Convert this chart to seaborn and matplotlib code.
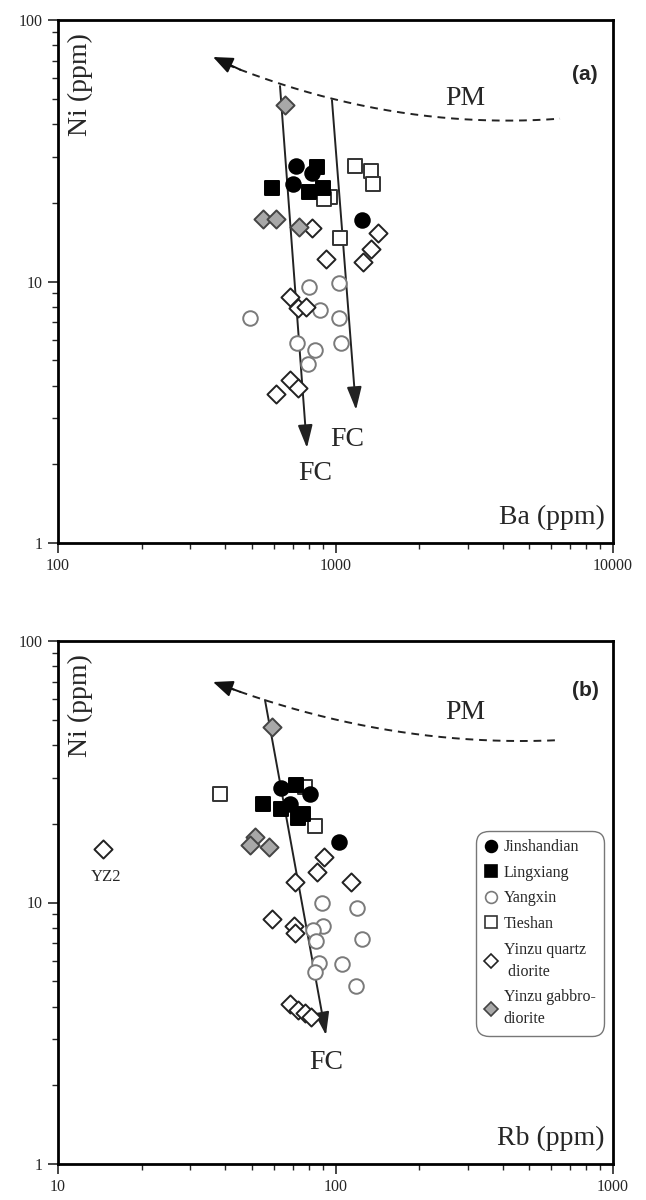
import numpy as np
import pandas as pd
import matplotlib
matplotlib.use("Agg")
import matplotlib.pyplot as plt
import seaborn as sns
from matplotlib.lines import Line2D
from matplotlib.ticker import NullFormatter, FixedLocator

sns.set_style("white")
plt.rcParams['font.family'] = ['Liberation Serif', 'DejaVu Serif']

groups = ["Jinshandian", "Lingxiang", "Yangxin", "Tieshan",
          "Yinzu quartz\n diorite", "Yinzu gabbro-\ndiorite"]

# ---- panel (a): Ba vs Ni ----
a_jin_ba = [721, 823, 703, 1246]
a_jin_ni = [27.7, 26.0, 23.6, 17.2]
a_lin_ba = [857, 590, 803, 902]
a_lin_ni = [27.4, 22.8, 22.0, 22.8]
a_yx_ba = [803, 1029, 492, 879, 1029, 727, 844, 1047, 796]
a_yx_ni = [9.5, 9.9, 7.25, 7.8, 7.25, 5.82, 5.47, 5.82, 4.84]
a_ts_ba = [1176, 1343, 1365, 955, 909, 1038]
a_ts_ni = [27.7, 26.5, 23.6, 21.0, 20.7, 14.7]
a_qd_ba = [823, 1423, 1343, 1257, 924, 686, 733, 783, 686, 610, 733]
a_qd_ni = [16.0, 15.3, 13.3, 11.9, 12.2, 8.7, 7.9, 8.0, 4.2, 3.7, 3.9]
a_gd_ba = [658, 548, 610, 739]
a_gd_ni = [47.3, 17.3, 17.3, 16.2]

# ---- panel (b): Rb vs Ni ----
b_jin_rb = [63.6, 80.9, 68.5, 102.9]
b_jin_ni = [27.4, 26.0, 23.8, 17.0]
b_lin_rb = [72.1, 54.8, 63.6, 76.4, 73.3]
b_lin_ni = [28.1, 23.8, 22.8, 21.8, 21.0]
b_yx_rb = [89.4, 119.6, 90.2, 83.0, 85.1, 124.6, 87.2, 105.5, 84.4, 118.6]
b_yx_ni = [9.96, 9.53, 8.13, 7.85, 7.13, 7.25, 5.87, 5.82, 5.42, 4.79]
b_ts_rb = [38.4, 77.6, 84.4]
b_ts_ni = [26.0, 27.7, 19.6]
b_qd_rb = [14.5, 90.9, 85.8, 113.7, 71.5, 59.0, 70.9, 71.5, 68.5, 73.3, 77.6, 81.6]
b_qd_ni = [16.0, 14.9, 13.1, 12.0, 12.0, 8.65, 8.13, 7.64, 4.09, 3.88, 3.78, 3.65]
b_gd_rb = [59.0, 51.3, 49.2, 57.6]
b_gd_ni = [46.9, 17.8, 16.6, 16.3]

# guide curves (PM) and FC vectors
a_pm_ba = [362, 631, 971, 2585, 6442]
a_pm_ni = [72.2, 55.9, 49.4, 43.3, 41.5]
a_fc1 = [(631, 55.9), (789, 2.31)]
a_fc2 = [(971, 49.4), (1186, 3.23)]
b_pm_rb = [36.2, 55.7, 170.8, 644]
b_pm_ni = [69.7, 59.5, 44.9, 41.8]
b_fc = [(55.7, 59.5), (92.4, 3.11)]

styles = {
    "Jinshandian": dict(marker="o", fc="black", ec="black", s=110),
    "Lingxiang": dict(marker="s", fc="black", ec="black", s=95),
    "Yangxin": dict(marker="o", fc="white", ec="#7a7a7a", s=110),
    "Tieshan": dict(marker="s", fc="white", ec="#333333", s=95),
    "Yinzu quartz\n diorite": dict(marker="D", fc="white", ec="#222222", s=85),
    "Yinzu gabbro-\ndiorite": dict(marker="D", fc="#a8a8a8", ec="#444444", s=85),
}

a_data = [(a_jin_ba, a_jin_ni), (a_lin_ba, a_lin_ni), (a_yx_ba, a_yx_ni),
          (a_ts_ba, a_ts_ni), (a_qd_ba, a_qd_ni), (a_gd_ba, a_gd_ni)]
b_data = [(b_jin_rb, b_jin_ni), (b_lin_rb, b_lin_ni), (b_yx_rb, b_yx_ni),
          (b_ts_rb, b_ts_ni), (b_qd_rb, b_qd_ni), (b_gd_rb, b_gd_ni)]

fig = plt.figure(figsize=(6.46, 12.0), dpi=100)
ax_a = fig.add_axes([58/646, 1-543/1200, 555/646, 523/1200])
ax_b = fig.add_axes([58/646, 1-1164/1200, 555/646, 523/1200])


def draw_points(ax, data):
    order = [2, 3, 4, 5, 0, 1]
    for i in order:
        g = groups[i]
        xs, ys = data[i]
        st = styles[g]
        df = pd.DataFrame({"x": xs, "y": ys})
        sns.scatterplot(data=df, x="x", y="y", ax=ax, marker=st["marker"],
                        s=st["s"], color=st["fc"], edgecolor=st["ec"],
                        linewidth=1.4, zorder=3, legend=False)


def style_axes(ax, xlim, xticks):
    ax.set_xscale("log")
    ax.set_yscale("log")
    ax.set_xlim(*xlim)
    ax.set_ylim(1, 100)
    ax.set_xlabel("")
    ax.set_ylabel("")
    for sp in ax.spines.values():
        sp.set_linewidth(2.0)
        sp.set_color("black")
    ax.tick_params(axis="both", which="major", direction="out", length=7,
                   width=1.2, labelsize=11.5, left=True, bottom=True,
                   top=False, right=False, pad=4)
    ax.tick_params(axis="both", which="minor", direction="out", length=4,
                   width=1.0, left=True, bottom=True, top=False, right=False)
    ax.xaxis.set_major_locator(FixedLocator(xticks))
    ax.set_xticklabels([str(t) for t in xticks])
    ax.yaxis.set_major_locator(FixedLocator([1, 10, 100]))
    ax.set_yticklabels(["1", "10", "100"])
    ax.xaxis.set_minor_formatter(NullFormatter())
    ax.yaxis.set_minor_formatter(NullFormatter())
    ax.grid(False)


def pm_curve(ax, xs, ys):
    lx, ly = np.log10(xs), np.log10(ys)
    coef = np.polyfit(lx, ly, 2)
    gx = np.linspace(lx[0] + 0.05, lx[-1], 200)
    gy = np.polyval(coef, gx)
    ax.plot(10**gx, 10**gy, ls=(0, (4, 3)), color="#222222", lw=1.4, zorder=2)
    ax.annotate("", xy=(xs[0], ys[0]), xytext=(10**gx[8], 10**gy[8]),
                arrowprops=dict(arrowstyle="-|>,head_length=1.2,head_width=0.5",
                                color="#111111", lw=1.4, shrinkA=0, shrinkB=0),
                zorder=2)


def fc_arrow(ax, p0, p1):
    ax.annotate("", xy=p1, xytext=p0,
                arrowprops=dict(arrowstyle="-|>,head_length=1.4,head_width=0.45",
                                color="#222222", lw=1.4, shrinkA=0, shrinkB=0),
                zorder=2)


serif = ['Liberation Serif', 'DejaVu Serif']

# panel a
pm_curve(ax_a, a_pm_ba, a_pm_ni)
fc_arrow(ax_a, *a_fc1)
fc_arrow(ax_a, *a_fc2)
draw_points(ax_a, a_data)
style_axes(ax_a, (100, 10000), [100, 1000, 10000])
ax_a.text(2929, 50.3, "PM", fontsize=20, ha="center", va="center", family=serif)
ax_a.text(843, 1.85, "FC", fontsize=20, ha="center", va="center", family=serif)
ax_a.text(1099, 2.48, "FC", fontsize=20, ha="center", va="center", family=serif)
ax_a.text(0.04, 0.975, "Ni (ppm)", rotation=90, fontsize=20, ha="center",
          va="top", transform=ax_a.transAxes, family=serif)
ax_a.text(0.985, 0.025, "Ba (ppm)", fontsize=20, ha="right", va="bottom",
          transform=ax_a.transAxes, family=serif)
ax_a.text(0.95, 0.895, "(a)", fontsize=15, fontweight="bold", ha="center",
          va="center", transform=ax_a.transAxes,
          family=["Liberation Sans", "DejaVu Sans"])

# panel b
pm_curve(ax_b, b_pm_rb, b_pm_ni)
fc_arrow(ax_b, *b_fc)
draw_points(ax_b, b_data)
style_axes(ax_b, (10, 1000), [10, 100, 1000])
ax_b.text(292.9, 53.5, "PM", fontsize=20, ha="center", va="center", family=serif)
ax_b.text(92.4, 2.45, "FC", fontsize=20, ha="center", va="center", family=serif)
ax_b.text(14.9, 12.5, "YZ2", fontsize=12, ha="center", va="center", family=serif)
ax_b.text(0.04, 0.975, "Ni (ppm)", rotation=90, fontsize=20, ha="center",
          va="top", transform=ax_b.transAxes, family=serif)
ax_b.text(0.985, 0.025, "Rb (ppm)", fontsize=20, ha="right", va="bottom",
          transform=ax_b.transAxes, family=serif)
ax_b.text(0.95, 0.906, "(b)", fontsize=15, fontweight="bold", ha="center",
          va="center", transform=ax_b.transAxes,
          family=["Liberation Sans", "DejaVu Sans"])

handles = []
for g in groups:
    st = styles[g]
    handles.append(Line2D([], [], ls="none", marker=st["marker"],
                          markerfacecolor=st["fc"], markeredgecolor=st["ec"],
                          markeredgewidth=1.2,
                          markersize=8.5 if st["marker"] != "D" else 7.5))
leg = ax_b.legend(handles, groups, loc="upper left",
                  bbox_to_anchor=(0.757, 0.633), frameon=True, fancybox=True,
                  handlelength=0.8, handletextpad=0.4,
                  borderpad=0.4, labelspacing=0.6, borderaxespad=0,
                  prop={"family": serif, "size": 11.5})
for t in leg.get_texts():
    t.set_linespacing(1.5)
leg.get_frame().set_edgecolor("#555555")
leg.get_frame().set_linewidth(1.0)
leg.get_frame().set_boxstyle("round,pad=0.15,rounding_size=0.8")

fig.savefig("out.png", dpi=100)
